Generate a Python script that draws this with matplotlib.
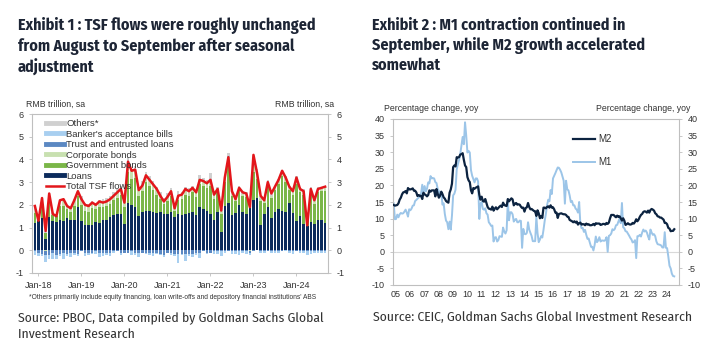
import numpy as np
import matplotlib.pyplot as plt
from matplotlib import font_manager
from matplotlib.lines import Line2D

installed = {f.name for f in font_manager.fontManager.ttflist}
narrow = 'Liberation Sans'
for cand in ['Fira Sans Condensed', 'Roboto Condensed', 'Open Sans Condensed',
             'PT Sans Narrow', 'Archivo Narrow', 'Liberation Sans Narrow']:
    if cand in installed:
        narrow = cand
        break
plt.rcParams['font.family'] = ['Liberation Sans', 'DejaVu Sans']
plt.rcParams['axes.unicode_minus'] = False

# ---- Exhibit 1: TSF flows, RMB trillion sa, Dec-17 .. Sep-24 ----
tsf_total = [1.95,
    1.30, 2.30, 0.85, 2.50, 1.60, 1.50, 2.20, 2.25, 1.95, 1.85, 2.20, 2.60,
    2.25, 2.00, 1.95, 2.10, 2.00, 2.15, 2.10, 2.15, 2.25, 2.40, 2.55, 2.70,
    2.10, 3.90, 3.50, 3.55, 2.65, 2.85, 3.30, 3.10, 2.90, 2.70, 2.40, 2.15,
    2.35, 2.60, 1.85, 2.40, 2.45, 2.70, 2.60, 2.75, 2.55, 3.10, 3.05, 2.95,
    3.10, 2.45, 2.70, 1.75, 3.20, 4.10, 2.60, 2.25, 2.75, 2.55, 2.50, 1.90,
    4.20, 3.40, 2.40, 2.20, 3.00, 2.50, 2.80, 3.10, 3.50, 3.20, 2.80, 2.60,
    3.20, 2.70, 2.60, 1.10, 2.70, 2.20, 2.70, 2.75, 2.80]
loans = [1.20,
    1.30, 1.40, 0.50, 1.45, 1.30, 1.25, 1.35, 1.30, 1.40, 1.35, 1.35, 1.90,
    1.30, 1.10, 1.10, 1.10, 1.25, 1.20, 1.35, 1.35, 1.45, 1.55, 1.60, 1.60,
    1.15, 2.10, 2.00, 1.90, 1.50, 1.70, 1.75, 1.75, 1.70, 1.65, 1.70, 1.60,
    1.60, 1.70, 1.45, 1.60, 1.55, 1.60, 1.65, 1.70, 1.55, 1.90, 1.80, 1.75,
    1.60, 1.35, 1.70, 0.80, 1.95, 2.10, 1.55, 1.65, 2.00, 1.70, 1.60, 1.85,
    2.20, 2.30, 1.10, 1.60, 1.90, 1.40, 1.70, 1.80, 1.75, 1.70, 2.10, 1.65,
    1.30, 1.50, 1.15, 1.05, 1.25, 1.15, 1.35, 1.35, 1.20]
gov_bonds = [0.45,
    0.10, 0.65, 0.25, 0.75, 0.25, 0.25, 0.60, 0.65, 0.40, 0.35, 0.60, 0.50,
    0.70, 0.65, 0.60, 0.75, 0.55, 0.70, 0.55, 0.60, 0.60, 0.65, 0.70, 0.85,
    0.75, 1.35, 1.15, 1.30, 0.90, 0.90, 1.25, 1.10, 0.95, 0.80, 0.55, 0.45,
    0.55, 0.70, 0.30, 0.60, 0.70, 0.85, 0.75, 0.85, 0.80, 1.00, 1.05, 1.00,
    1.25, 0.90, 0.85, 0.80, 1.05, 1.75, 0.85, 0.50, 0.65, 0.70, 0.75, 0.25,
    1.25, 0.85, 1.05, 0.50, 0.90, 0.90, 0.95, 1.10, 1.50, 1.30, 0.55, 0.80,
    1.60, 1.05, 1.30, 0.45, 1.30, 0.90, 1.20, 1.25, 1.40]
corp_bonds = [0.10,
    0.05, 0.15, -0.05, 0.20, 0.05, 0.00, 0.15, 0.20, 0.15, 0.10, 0.20, 0.15,
    0.20, 0.25, 0.25, 0.20, 0.20, 0.20, 0.25, 0.25, 0.25, 0.25, 0.30, 0.30,
    0.30, 0.45, 0.35, 0.40, 0.30, 0.25, 0.35, 0.30, 0.30, 0.25, 0.20, 0.15,
    0.20, 0.25, 0.15, 0.25, 0.20, 0.25, 0.25, 0.20, 0.20, 0.25, 0.20, 0.15,
    0.25, 0.20, 0.15, 0.15, 0.15, 0.25, 0.15, 0.10, 0.10, 0.10, 0.10, -0.05,
    0.25, 0.20, 0.15, 0.10, 0.15, 0.10, 0.10, 0.15, 0.15, 0.15, 0.10, 0.10,
    0.20, 0.15, 0.15, 0.05, 0.15, 0.10, 0.15, 0.15, 0.15]
trust_loans = [-0.05,
    -0.10, -0.15, -0.15, -0.20, -0.10, -0.20, -0.15, -0.10, -0.15, -0.10, -0.10, -0.15,
    -0.05, -0.10, -0.10, -0.10, -0.05, -0.10, -0.10, -0.10, -0.10, -0.05, -0.05, -0.10,
    -0.10, -0.10, -0.05, -0.10, -0.10, -0.10, -0.10, -0.10, -0.10, -0.10, -0.15, -0.20,
    -0.10, -0.10, -0.15, -0.15, -0.15, -0.15, -0.15, -0.15, -0.10, -0.10, -0.05, -0.10,
    -0.10, -0.05, -0.05, -0.05, -0.05, -0.05, -0.05, -0.05, -0.05, -0.05, -0.05, -0.05,
    -0.05, 0.05, -0.05, -0.05, -0.05, -0.05, -0.05, -0.05, -0.05, 0.00, -0.05, -0.05,
    -0.05, -0.05, -0.05, -0.05, -0.05, -0.05, -0.05, -0.05, -0.05]
bankers_acc = [-0.15,
    -0.15, -0.10, -0.30, -0.20, -0.30, -0.20, -0.10, -0.30, -0.10, -0.20, -0.10, -0.10,
    0.10, -0.15, -0.10, -0.05, -0.10, -0.20, -0.15, -0.10, -0.15, -0.05, 0.00, -0.10,
    0.05, 0.05, -0.15, -0.10, -0.20, 0.05, -0.05, -0.10, -0.15, -0.05, -0.05, -0.10,
    0.05, -0.10, -0.10, -0.40, -0.05, -0.30, -0.10, -0.15, -0.10, -0.25, 0.05, -0.05,
    0.05, -0.10, -0.10, -0.20, -0.05, 0.05, -0.10, -0.10, -0.15, -0.05, -0.10, -0.10,
    0.10, 0.10, -0.05, -0.05, 0.05, -0.05, -0.05, -0.05, 0.05, -0.05, -0.05, -0.10,
    0.05, -0.05, -0.05, -0.15, -0.10, -0.05, -0.05, -0.05, -0.05]
others = [0.10,
    0.10, 0.10, 0.10, 0.10, 0.10, 0.10, 0.10, 0.10, 0.05, 0.10, 0.10, 0.10,
    0.10, 0.10, 0.10, 0.10, 0.10, 0.10, 0.10, 0.10, 0.10, 0.10, 0.10, 0.10,
    0.10, 0.15, 0.10, 0.10, 0.10, 0.15, 0.10, 0.10, 0.10, 0.10, 0.10, 0.10,
    0.10, 0.10, 0.10, 0.15, 0.10, 0.10, 0.10, 0.10, 0.10, 0.15, 0.10, 0.20,
    0.25, 0.10, 0.10, 0.10, 0.10, 0.15, 0.10, 0.10, 0.10, 0.10, 0.10, 0.10,
    0.15, 0.10, 0.10, 0.10, 0.10, 0.10, 0.10, 0.10, 0.10, 0.10, 0.10, 0.10,
    0.10, 0.10, 0.10, 0.10, 0.10, 0.10, 0.10, 0.05, 0.05]
tsf_ticks = [1, 13, 25, 37, 49, 61, 73]
tsf_ticklabels = ['Jan-18', 'Jan-19', 'Jan-20', 'Jan-21', 'Jan-22', 'Jan-23', 'Jan-24']

# ---- Exhibit 2: money supply, % yoy, Jan-05 .. Sep-24 ----
m2_yoy = [
    14.1, 13.9, 14.0, 14.1, 14.6, 15.7, 16.3, 17.3, 17.9, 18.0, 18.3, 17.6,
    19.2, 18.8, 18.8, 18.9, 19.1, 18.4, 18.4, 17.9, 16.8, 17.1, 16.8, 16.9,
    15.9, 17.8, 17.3, 17.1, 16.7, 17.1, 18.5, 18.1, 18.5, 18.5, 18.5, 16.7,
    18.9, 17.5, 16.3, 16.9, 18.1, 17.4, 16.4, 16.0, 15.3, 15.0, 14.8, 17.8,
    18.8, 20.5, 25.5, 26.0, 25.7, 28.5, 28.4, 28.5, 29.3, 29.4, 29.7, 27.7,
    26.0, 25.5, 22.5, 21.5, 21.0, 18.5, 17.6, 19.2, 19.0, 19.3, 19.5, 19.7,
    17.2, 15.7, 16.6, 15.3, 15.1, 15.9, 14.7, 13.5, 13.0, 12.9, 12.7, 13.6,
    12.4, 13.0, 13.4, 12.8, 13.2, 13.6, 13.9, 13.5, 14.8, 14.1, 13.9, 13.8,
    15.9, 15.2, 15.7, 16.1, 15.8, 14.0, 14.5, 14.7, 14.2, 14.3, 14.2, 13.6,
    13.2, 13.3, 12.1, 13.2, 13.4, 14.7, 13.5, 12.8, 12.9, 12.6, 12.3, 12.2,
    10.8, 12.5, 11.6, 10.1, 10.8, 10.2, 13.3, 13.3, 13.1, 13.5, 13.7, 13.3,
    14.0, 13.3, 13.4, 12.8, 11.8, 11.8, 10.2, 11.4, 11.5, 11.6, 11.4, 11.3,
    11.3, 11.1, 10.6, 10.5, 9.6, 9.4, 9.2, 8.9, 9.2, 8.8, 9.1, 8.2,
    8.6, 8.8, 8.2, 8.3, 8.3, 8.0, 8.5, 8.2, 8.3, 8.0, 8.0, 8.1,
    8.4, 8.0, 8.6, 8.5, 8.5, 8.5, 8.1, 8.2, 8.4, 8.4, 8.2, 8.7,
    8.4, 8.8, 10.1, 11.1, 11.1, 11.1, 10.7, 10.4, 10.9, 10.5, 10.7, 10.1,
    9.4, 10.1, 9.4, 8.1, 8.3, 8.6, 8.3, 8.2, 8.3, 8.7, 8.5, 9.0,
    9.8, 9.2, 9.7, 10.5, 11.1, 11.4, 12.0, 12.2, 12.1, 11.8, 12.4, 11.8,
    12.6, 12.9, 12.7, 12.4, 11.6, 11.3, 10.7, 10.6, 10.3, 10.3, 10.0, 9.7,
    8.7, 8.7, 8.3, 7.2, 7.0, 6.2, 6.3, 6.3, 6.8]
m1_yoy = [
    14.6, 9.8, 9.9, 11.2, 10.4, 11.3, 11.7, 11.5, 11.6, 12.1, 12.7, 11.8,
    10.6, 12.8, 12.5, 13.0, 13.9, 14.0, 15.3, 15.6, 16.0, 16.3, 16.8, 17.5,
    20.2, 17.8, 19.8, 18.2, 19.0, 20.9, 20.6, 22.8, 22.1, 22.2, 22.1, 21.0,
    20.7, 18.9, 18.3, 16.9, 18.1, 14.2, 14.6, 11.4, 9.4, 8.9, 6.8, 9.1,
    6.7, 10.9, 17.0, 17.5, 18.7, 24.8, 26.4, 27.7, 29.5, 32.0, 34.6, 32.4,
    39.0, 35.0, 29.9, 30.4, 29.9, 24.6, 22.9, 21.9, 20.9, 22.1, 22.1, 21.2,
    9.9, 14.5, 15.0, 12.9, 12.7, 13.1, 11.6, 11.2, 8.9, 8.4, 7.8, 7.9,
    3.1, 4.3, 4.4, 3.1, 3.5, 4.7, 4.6, 4.5, 7.3, 6.1, 5.5, 6.5,
    15.3, 9.5, 11.9, 11.9, 11.3, 9.1, 9.7, 9.9, 8.9, 8.9, 9.4, 9.3,
    1.2, 6.9, 5.4, 5.3, 5.7, 8.9, 6.7, 5.7, 4.8, 3.2, 3.2, 3.2,
    10.6, 5.6, 2.9, 3.7, 4.7, 4.3, 6.6, 9.3, 11.4, 14.0, 15.7, 15.2,
    18.6, 17.4, 22.1, 22.9, 23.7, 24.6, 25.4, 25.3, 24.7, 23.9, 22.7, 21.4,
    14.5, 21.4, 18.8, 18.5, 17.0, 15.0, 15.3, 14.0, 14.0, 13.0, 12.7, 11.8,
    15.0, 8.5, 7.1, 7.2, 6.0, 6.6, 5.1, 3.9, 4.0, 2.7, 1.5, 1.5,
    0.4, 2.0, 4.6, 2.9, 3.4, 4.4, 3.1, 3.4, 3.4, 3.3, 3.5, 4.4,
    0.0, 4.8, 5.0, 5.5, 6.8, 6.5, 6.9, 8.0, 8.1, 9.1, 10.0, 8.6,
    14.7, 7.4, 7.1, 6.2, 6.1, 5.5, 4.9, 4.2, 3.7, 2.8, 3.0, 3.5,
    -1.9, 4.7, 4.7, 5.1, 4.6, 5.8, 6.7, 6.1, 6.4, 5.8, 4.6, 3.7,
    6.7, 5.8, 5.1, 5.3, 4.7, 3.1, 2.3, 2.2, 2.1, 1.9, 1.3, 1.3,
    5.9, 1.2, 1.1, -1.4, -4.2, -5.0, -6.6, -7.3, -7.4]
first_year = 2005
year_labels = ['05', '06', '07', '08', '09', '10', '11', '12', '13', '14',
               '15', '16', '17', '18', '19', '20', '21', '22', '23', '24']

title_color = '#1d2535'
text_color = '#333333'
frame_color = '#bfbfbf'

fig = plt.figure(figsize=(7.28, 3.55), dpi=100)

fig.text(18 / 728, 1 - 17 / 355,
         'Exhibit 1 : TSF flows were roughly unchanged\nfrom August to September after seasonal\nadjustment',
         family=narrow, fontsize=11.5, fontweight='bold', color=title_color,
         va='top', ha='left', linespacing=1.3)
fig.text(372 / 728, 1 - 17 / 355,
         'Exhibit 2 : M1 contraction continued in\nSeptember, while M2 growth accelerated\nsomewhat',
         family=narrow, fontsize=11.5, fontweight='bold', color=title_color,
         va='top', ha='left', linespacing=1.3)
fig.text(18 / 728, 1 - 311 / 355,
         'Source: PBOC, Data compiled by Goldman Sachs Global\nInvestment Research',
         family=narrow, fontsize=9.8, color=text_color, va='top', ha='left', linespacing=1.45)
fig.text(373 / 728, 1 - 311 / 355,
         'Source: CEIC, Goldman Sachs Global Investment Research',
         family=narrow, fontsize=9.8, color=text_color, va='top', ha='left')


def style_axes(ax):
    for s in ax.spines.values():
        s.set_color(frame_color)
        s.set_linewidth(0.8)
    ax.tick_params(axis='both', labelsize=6.5, colors=text_color, length=2.5, width=0.6,
                   color=frame_color)


# ---- left panel ----
ax1 = fig.add_axes([32 / 728, 1 - 273 / 355, 296 / 728, 159 / 355])
x = np.arange(len(tsf_total))
pos_base = np.zeros(len(x))
neg_base = np.zeros(len(x))
components = [
    (loans, '#0b2b5c', 'Loans'),
    (gov_bonds, '#7ab648', 'Government bonds'),
    (corp_bonds, '#c8e0b0', 'Corporate bonds'),
    (trust_loans, '#5b88c2', 'Trust and entrusted loans'),
    (bankers_acc, '#a8cff0', "Banker's acceptance bills"),
    (others, '#d0d0d0', 'Others*'),
]
for vals, color, label in components:
    v = np.array(vals)
    bottom = np.where(v >= 0, pos_base, neg_base)
    ax1.bar(x, v, bottom=bottom, width=0.72, color=color, linewidth=0, zorder=2)
    pos_base += np.clip(v, 0, None)
    neg_base += np.clip(v, None, 0)
ax1.plot(x, tsf_total, color='#e3161b', lw=1.8, zorder=3)

ax1.set_ylim(-1, 6)
ax1.set_xlim(-0.8, len(x) - 0.2)
ax1.set_yticks(range(-1, 7))
ax1.set_xticks(tsf_ticks)
ax1.set_xticklabels(tsf_ticklabels)
ax1.tick_params(axis='y', which='both', right=True, labelright=True)
style_axes(ax1)
ax1.text(-0.02, 1.035, 'RMB trillion, sa', transform=ax1.transAxes, fontsize=6.3,
         color=text_color, ha='left', va='bottom')
ax1.text(1.02, 1.035, 'RMB trillion, sa', transform=ax1.transAxes, fontsize=6.3,
         color=text_color, ha='right', va='bottom')
ax1.text(-0.01, -0.135, "*Others primarily include equity financing, loan write-offs and depository financial institutions' ABS",
         transform=ax1.transAxes, fontsize=4.8, color=text_color, ha='left', va='top')

handles = [Line2D([], [], color=c, lw=3.5) for _, c, _ in components[::-1]]
labels = [lab for _, _, lab in components[::-1]]
handles.append(Line2D([], [], color='#e3161b', lw=1.8))
labels.append('Total TSF flows')
ax1.legend(handles, labels, loc='upper left', bbox_to_anchor=(0.025, 1.01), frameon=False,
           fontsize=6.8, handlelength=1.9, handletextpad=0.25, labelspacing=0.16,
           borderaxespad=0.3, labelcolor=text_color)

# ---- right panel ----
ax2 = fig.add_axes([393 / 728, 1 - 285 / 355, 286 / 728, 166 / 355])
t = first_year + np.arange(len(m2_yoy)) / 12
ax2.axhline(0, color='#d9d9d9', lw=0.8, zorder=1)
ax2.plot(t, m1_yoy, color='#9cc5e8', lw=1.4, label='M1', zorder=2)
ax2.plot(t, m2_yoy, color='#0c2340', lw=1.6, label='M2', zorder=3)
ax2.set_ylim(-10, 40)
ax2.set_yticks(range(-10, 41, 5))
ax2.set_xlim(first_year - 0.05, first_year + 20)
ax2.set_xticks(first_year + np.arange(len(year_labels)) + 0.15)
ax2.set_xticklabels(year_labels)
ax2.tick_params(axis='y', right=True, labelright=True)
style_axes(ax2)
ax2.tick_params(axis='x', length=0)
ax2.text(-0.03, 1.035, 'Percentage change, yoy', transform=ax2.transAxes, fontsize=6.3,
         color=text_color, ha='left', va='bottom')
ax2.text(1.04, 1.035, 'Percentage change, yoy', transform=ax2.transAxes, fontsize=6.3,
         color=text_color, ha='right', va='bottom')
h, l = ax2.get_legend_handles_labels()
ax2.legend(h[::-1], l[::-1], loc='upper left', bbox_to_anchor=(0.6, 0.96), frameon=False,
           fontsize=7, handlelength=2.2, handletextpad=0.4, labelspacing=1.3,
           labelcolor=text_color)

fig.savefig('out.png', dpi=100, facecolor='white')
